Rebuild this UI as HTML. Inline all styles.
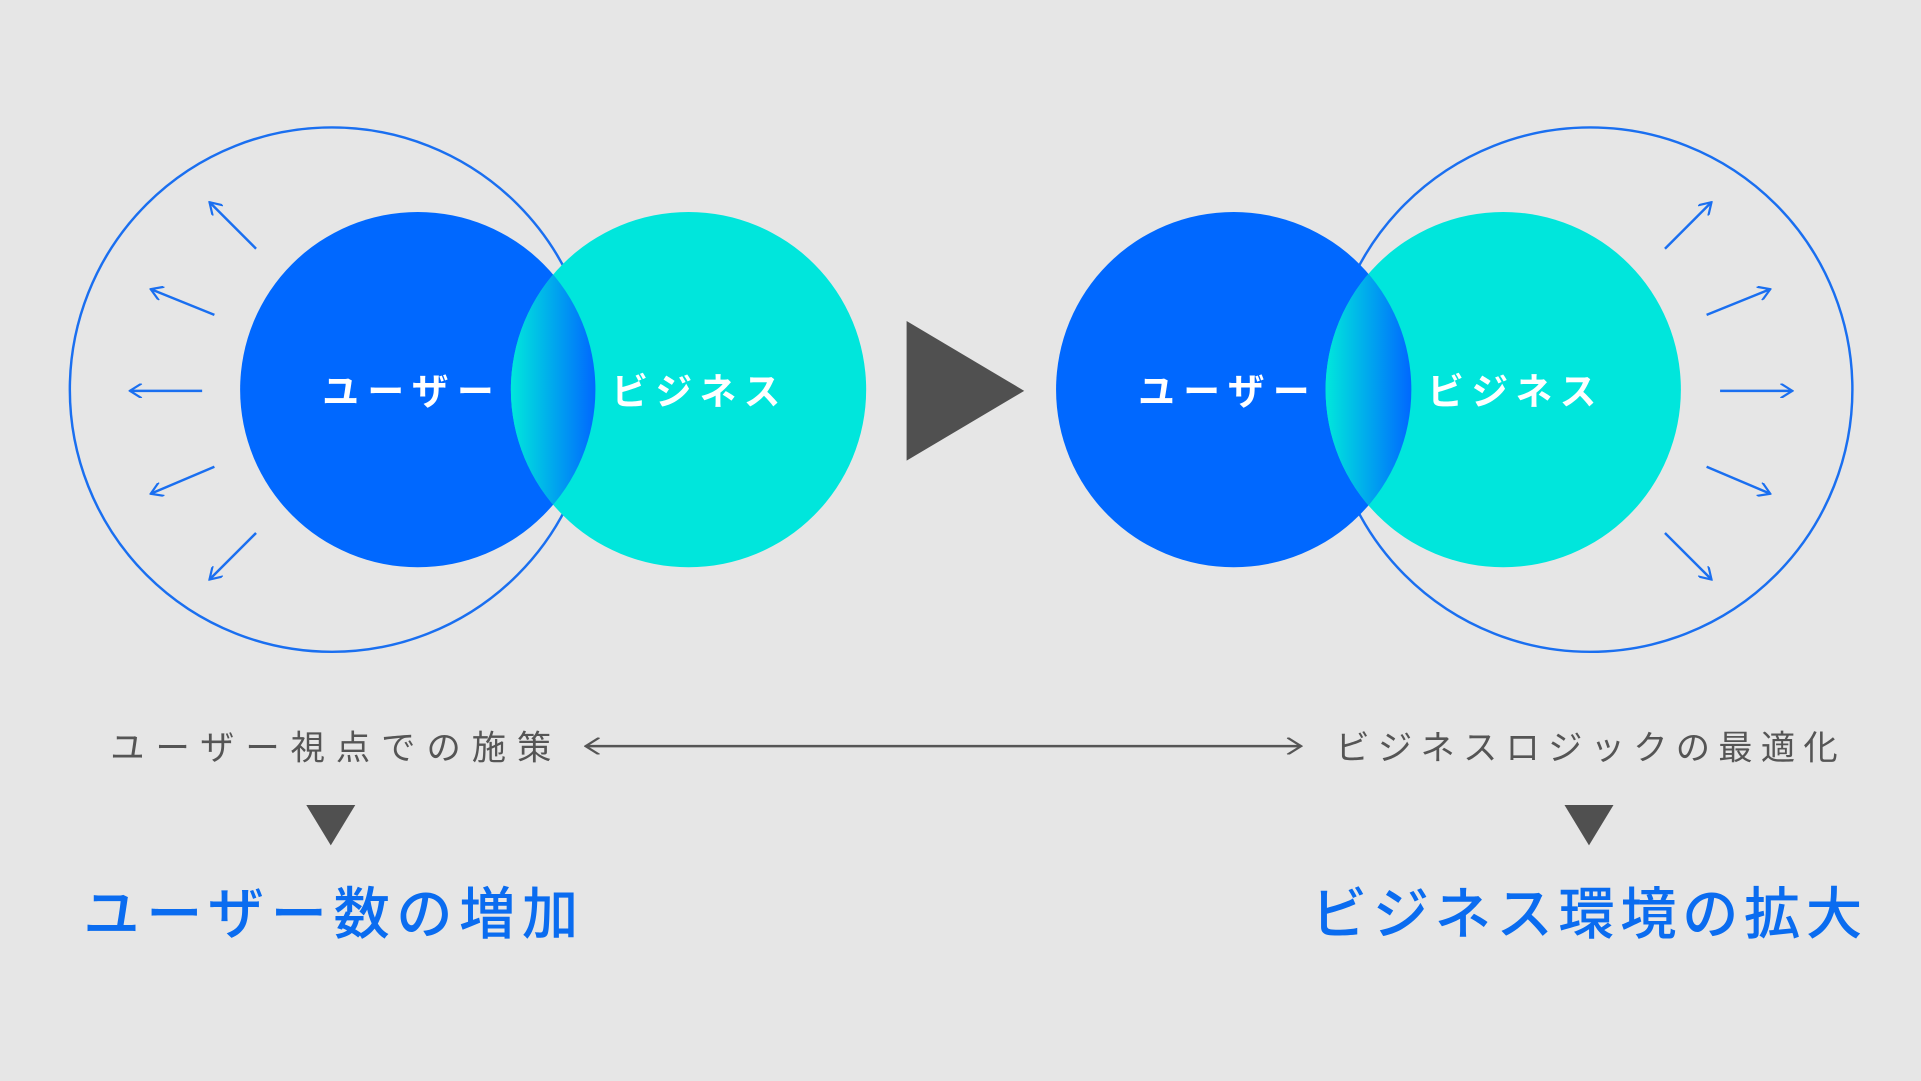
<!DOCTYPE html>
<html><head><meta charset="utf-8"><style>html,body{margin:0;padding:0;background:#e6e6e6;}svg{display:block}</style></head>
<body>
<svg width="1921" height="1081" viewBox="0 0 1568 882.3" preserveAspectRatio="none" xmlns="http://www.w3.org/2000/svg">
<defs>
<linearGradient id="g1" x1="418" y1="0" x2="486" y2="0" gradientUnits="userSpaceOnUse"><stop offset="0" stop-color="#00e6dc"/><stop offset="1" stop-color="#0068ff"/></linearGradient>
<linearGradient id="g2" x1="1083" y1="0" x2="1152" y2="0" gradientUnits="userSpaceOnUse"><stop offset="0" stop-color="#00e6dc"/><stop offset="1" stop-color="#0068ff"/></linearGradient>
<clipPath id="c1"><circle cx="341" cy="318" r="145"/></clipPath>
<clipPath id="c2"><circle cx="1007" cy="318" r="145"/></clipPath>
<marker id="ah" viewBox="0 0 10 10" refX="9" refY="5" markerWidth="12" markerHeight="12" markerUnits="userSpaceOnUse" orient="auto"><path d="M1,0 L9,5 L1,10" fill="none" stroke="#1a6ff0" stroke-width="1.5"/></marker>
<marker id="ag" viewBox="0 0 10 10" refX="9" refY="5" markerWidth="14" markerHeight="14" markerUnits="userSpaceOnUse" orient="auto-start-reverse"><path d="M1,0 L9,5 L1,10" fill="none" stroke="#555" stroke-width="1.3"/></marker>
</defs>
<rect width="1568" height="882.3" fill="#e6e6e6"/>
<g fill="none" stroke="#1a6ff0" stroke-width="2">
<circle cx="271" cy="318" r="214"/>
<circle cx="1298" cy="318" r="214"/>
</g>
<circle cx="341" cy="318" r="145" fill="#0068ff"/>
<circle cx="562" cy="318" r="145" fill="#00e6dc"/>
<circle cx="562" cy="318" r="145" fill="url(#g1)" clip-path="url(#c1)"/>
<circle cx="1007" cy="318" r="145" fill="#0068ff"/>
<circle cx="1227" cy="318" r="145" fill="#00e6dc"/>
<circle cx="1227" cy="318" r="145" fill="url(#g2)" clip-path="url(#c2)"/>
<g stroke="#1a6ff0" stroke-width="2" marker-end="url(#ah)">
<line x1="209" y1="203" x2="171" y2="165"/>
<line x1="175" y1="257" x2="123" y2="236"/>
<line x1="165" y1="319" x2="106" y2="319"/>
<line x1="175" y1="381" x2="123" y2="403"/>
<line x1="209" y1="435" x2="171" y2="473"/>
<line x1="1359" y1="203" x2="1397" y2="165"/>
<line x1="1393" y1="257" x2="1445" y2="236"/>
<line x1="1404" y1="319" x2="1463" y2="319"/>
<line x1="1393" y1="381" x2="1445" y2="403"/>
<line x1="1359" y1="435" x2="1397" y2="473"/>
</g>
<polygon points="740,262 836,319 740,376" fill="#505050"/>
<g font-family="'Liberation Sans','Noto Sans CJK JP',sans-serif" font-weight="bold" font-size="30" fill="#fff">
<text x="263" y="330" textLength="140" lengthAdjust="spacing">ユーザー</text>
<text x="499" y="330" textLength="138" lengthAdjust="spacing">ビジネス</text>
<text x="929" y="330" textLength="140" lengthAdjust="spacing">ユーザー</text>
<text x="1165" y="330" textLength="138" lengthAdjust="spacing">ビジネス</text>
</g>
<g font-family="'Liberation Sans','Noto Sans CJK JP',sans-serif" font-size="28" fill="#555">
<text x="90" y="620" textLength="360" lengthAdjust="spacing">ユーザー視点での施策</text>
<text x="1090" y="620" textLength="410" lengthAdjust="spacing">ビジネスロジックの最適化</text>
</g>
<line x1="478" y1="609" x2="1062" y2="609" stroke="#555" stroke-width="2" marker-start="url(#ag)" marker-end="url(#ag)"/>
<polygon points="250,657 290,657 270,690" fill="#505050"/>
<polygon points="1277,657 1317,657 1297,690" fill="#505050"/>
<g font-family="'Liberation Sans','Noto Sans CJK JP',sans-serif" font-size="46" fill="#0a6cf0" font-weight="500">
<text x="68" y="762" textLength="404" lengthAdjust="spacing">ユーザー数の増加</text>
<text x="1070" y="762" textLength="450" lengthAdjust="spacing">ビジネス環境の拡大</text>
</g>
</svg>
</body></html>
